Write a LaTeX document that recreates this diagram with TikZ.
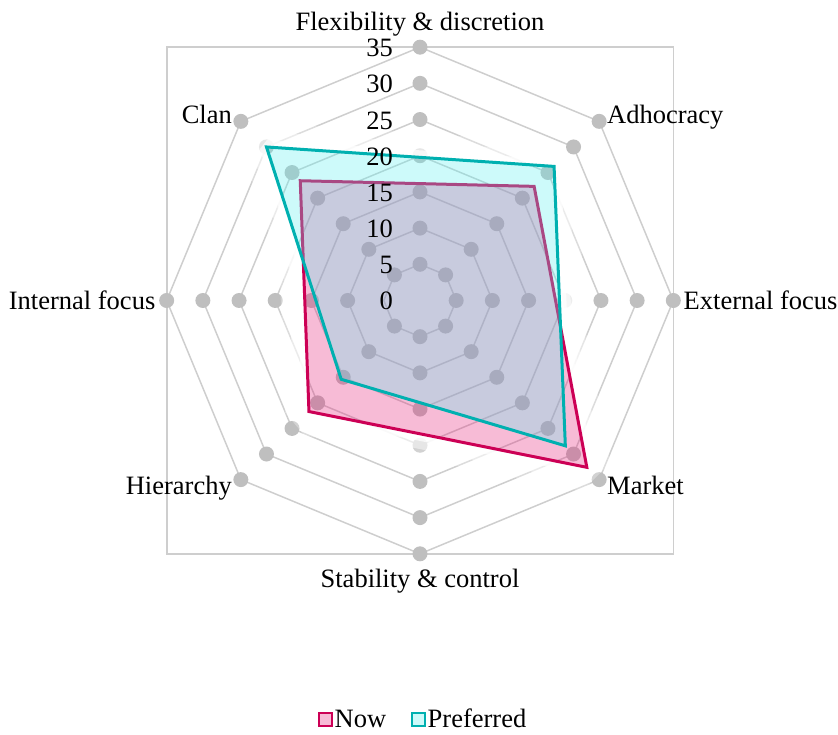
\documentclass[tikz,border=0pt]{standalone}
\usepackage{fontspec}
\setmainfont{Liberation Serif}
\definecolor{gridgrey}{RGB}{206,206,206}
\definecolor{dotgrey}{RGB}{191,191,191}
\definecolor{nowline}{RGB}{204,0,85}
\definecolor{nowfill}{RGB}{230,30,120}
\definecolor{prefline}{RGB}{0,176,176}
\definecolor{preffill}{RGB}{90,240,240}
\def\rvunit{7.237}
\begin{document}
\begin{tikzpicture}[x=1pt,y=1pt,
  gridline/.style={draw=gridgrey, line width=1.5pt, line join=round},
  griddot/.style={fill=dotgrey, draw=none},
  framebox/.style={draw=gridgrey, line width=1.6pt},
  catlabel/.style={font=\fontsize{26.5}{31}\selectfont, inner sep=0pt, text=black},
  ticklabel/.style={font=\fontsize{26.5}{31}\selectfont, inner sep=0pt, text=black, anchor=base east},
  nowshape/.style={draw=nowline, fill=nowfill, fill opacity=0.3, line width=3pt, line join=miter},
  prefshape/.style={draw=prefline, fill=preffill, fill opacity=0.3, line width=3pt, line join=miter},
  glow/.style={white, line join=bevel},
  legendsq/.style={minimum size=13pt, inner sep=0pt, line width=2pt, fill opacity=0.3, text opacity=1}]
\useasboundingbox (0,0) rectangle (838,735);
\begin{scope}[shift={(420,434.5)}]
  % plot-area frame
  \draw[framebox] (-253.3,-253.3) rectangle (253.3,253.3);
  % octagonal rings, one per 5 units, with a marker at every corner
  \foreach \k in {1,...,7} {
    \pgfmathsetmacro\rr{36.19*\k}
    \draw[gridline] (90:\rr) -- (45:\rr) -- (0:\rr) -- (-45:\rr) -- (-90:\rr)
      -- (-135:\rr) -- (180:\rr) -- (135:\rr) -- cycle;
    \foreach \a in {90,45,0,-45,-90,-135,180,135} {
      \ifnum\k=1 \ifnum\a=180 \else \fill[griddot] (\a:\rr) circle (7.5); \fi
      \else \fill[griddot] (\a:\rr) circle (7.5); \fi
    }
  }
  % series points: Flexibility, Adhocracy, External, Market, Stability, Hierarchy, Internal, Clan
  \foreach \a/\v [count=\i] in {90/16.15,45/22.3,0/18.73,-45/32.6,-90/18.42,-135/21.7,180/15.92,135/23.4}
    \coordinate (n\i) at (\a:{\v*\rvunit});
  \foreach \a/\v [count=\i] in {90/19.78,45/26.2,0/19.27,-45/28.4,-90/14.12,-135/15.4,180/14.39,135/30}
    \coordinate (p\i) at (\a:{\v*\rvunit});
  % soft white glow around both series, outside their areas only
  % (outer square runs counter-clockwise, series outlines clockwise)
  \begin{scope}
    \clip (-600,-600) -- (600,-600) -- (600,600) -- (-600,600) -- cycle
      (n1) -- (n2) -- (n3) -- (n4) -- (n5) -- (n6) -- (n7) -- (n8) -- cycle;
    \clip (-600,-600) -- (600,-600) -- (600,600) -- (-600,600) -- cycle
      (p1) -- (p2) -- (p3) -- (p4) -- (p5) -- (p6) -- (p7) -- (p8) -- cycle;
    \foreach \w/\o in {48/0.3,30/0.45,14/0.7} {
      \draw[glow, opacity=\o, line width=\w pt]
        (n1) -- (n2) -- (n3) -- (n4) -- (n5) -- (n6) -- (n7) -- (n8) -- cycle;
      \draw[glow, opacity=\o, line width=\w pt]
        (p1) -- (p2) -- (p3) -- (p4) -- (p5) -- (p6) -- (p7) -- (p8) -- cycle;
    }
  \end{scope}
  % data series
  \draw[nowshape] (n1) -- (n2) -- (n3) -- (n4) -- (n5) -- (n6) -- (n7) -- (n8) -- cycle;
  \draw[prefshape] (p1) -- (p2) -- (p3) -- (p4) -- (p5) -- (p6) -- (p7) -- (p8) -- cycle;
  % value axis labels
  \foreach \k in {0,...,7}
    \node[ticklabel] (tick\k) at (-27,{36.19*\k-9.5}) {\the\numexpr5*\k\relax};
  % category labels
  \node[catlabel, anchor=base] (flex) at (0,269.5) {Flexibility \& discretion};
  \node[catlabel, anchor=base west] (adho) at (187,177) {Adhocracy};
  \node[catlabel, anchor=base west] (extf) at (263.5,-9) {External focus};
  \node[catlabel, anchor=base west] (mark) at (187,-194.5) {Market};
  \node[catlabel, anchor=base] (stab) at (0,-287.5) {Stability \& control};
  \node[catlabel, anchor=base east] (hier) at (-188,-194.5) {Hierarchy};
  \node[catlabel, anchor=base east] (intf) at (-264.5,-9) {Internal focus};
  \node[catlabel, anchor=base east] (clan) at (-188,177) {Clan};
\end{scope}
% legend
\node[legendsq, draw=nowline, fill=nowfill] (lgnow) at (325.8,15.3) {};
\node[catlabel, anchor=base west] (lgnowtxt) at (334.5,7.7) {Now};
\node[legendsq, draw=prefline, fill=preffill] (lgpref) at (418.5,15.3) {};
\node[catlabel, anchor=base west] (lgpreftxt) at (427.5,7.7) {Preferred};
\end{tikzpicture}
\end{document}
